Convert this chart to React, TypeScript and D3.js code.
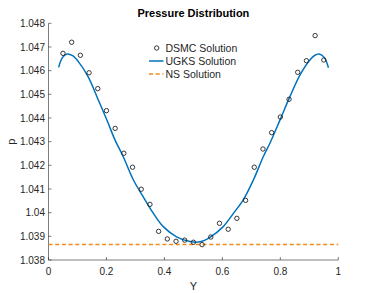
import React from "react";
import * as d3 from "d3";

const dsmcY = [0.05, 0.08, 0.11, 0.14, 0.17, 0.2, 0.23, 0.26, 0.29, 0.32, 0.35, 0.38, 0.41, 0.44, 0.47, 0.5, 0.53, 0.56, 0.59, 0.62, 0.65, 0.68, 0.71, 0.74, 0.77, 0.8, 0.83, 0.86, 0.89, 0.92, 0.95];
const dsmcP = [1.04673, 1.0472, 1.04665, 1.04591, 1.04524, 1.04431, 1.04356, 1.04251, 1.04192, 1.04099, 1.04035, 1.03921, 1.03889, 1.03879, 1.03884, 1.03875, 1.03865, 1.03897, 1.03955, 1.0393, 1.03976, 1.04052, 1.04192, 1.04269, 1.04338, 1.04404, 1.04479, 1.04593, 1.04642, 1.04748, 1.04645];

const ugksY = [0.035, 0.048, 0.064, 0.083, 0.103, 0.137, 0.172, 0.206, 0.227, 0.258, 0.293, 0.327, 0.362, 0.396, 0.442, 0.488, 0.523, 0.557, 0.603, 0.638, 0.672, 0.707, 0.741, 0.764, 0.799, 0.833, 0.868, 0.902, 0.918, 0.934, 0.952, 0.966];
const ugksP = [1.04614, 1.04655, 1.0467, 1.04663, 1.04638, 1.04574, 1.04476, 1.04378, 1.04314, 1.04236, 1.04138, 1.04067, 1.03997, 1.03941, 1.03898, 1.03878, 1.03877, 1.03896, 1.03941, 1.03997, 1.04054, 1.04138, 1.04236, 1.04293, 1.04392, 1.0449, 1.04582, 1.04645, 1.04664, 1.0467, 1.04655, 1.04612];

const nsY = [0, 1];
const nsP = [1.03866, 1.03866];

const xTicks = [0, 0.2, 0.4, 0.6, 0.8, 1];
const yTicks = [1.038, 1.039, 1.04, 1.041, 1.042, 1.043, 1.044, 1.045, 1.046, 1.047, 1.048];

const legendItems = ["DSMC Solution", "UGKS Solution", "NS Solution"];

const W = 374;
const H = 293;
const left = 48.5;
const right = 338.3;
const top = 23.3;
const bottom = 260;

const textColor = "#262626";
const axisColor = "#262626";
const blue = "#0072BD";
const orange = "#F08A1C";
const font = "'Liberation Sans', Arial, Helvetica, sans-serif";

export default function App() {
  const x = d3.scaleLinear().domain([0, 1]).range([left, right]);
  const y = d3.scaleLinear().domain([1.038, 1.048]).range([bottom, top]);

  const ugksLine = d3
    .line<number>()
    .x((_, i) => x(ugksY[i]))
    .y((d) => y(d))
    .curve(d3.curveCatmullRom.alpha(0.5))(ugksP) as string;

  const nsLine = d3
    .line<number>()
    .x((_, i) => x(nsY[i]))
    .y((d) => y(d))(nsP) as string;

  const fmt = (v: number) => String(+v.toFixed(3));

  const legendX = 156.7;
  const legendY0 = 48;
  const legendDy = 13;

  return (
    <svg
      width={W}
      height={H}
      style={{ position: "absolute", left: 0, top: 0, background: "#fff" }}
      fontFamily={font}
    >
      <rect x={0} y={0} width={W} height={H} fill="#fff" />
      <text x={(left + right) / 2} y={17} textAnchor="middle" fontSize={11} fontWeight="bold" fill="#000">
        Pressure Distribution
      </text>

      <line x1={left} x2={left} y1={top} y2={bottom} stroke={axisColor} strokeWidth={0.6} />
      <line x1={left} x2={right} y1={bottom} y2={bottom} stroke={axisColor} strokeWidth={0.6} />

      {yTicks.map((t) => (
        <g key={"y" + t}>
          <line x1={left} x2={left + 3} y1={y(t)} y2={y(t)} stroke={axisColor} strokeWidth={0.6} />
          <text x={left - 3.5} y={y(t) + 3.6} textAnchor="end" fontSize={10} fill={textColor}>
            {fmt(t)}
          </text>
        </g>
      ))}
      {xTicks.map((t) => (
        <g key={"x" + t}>
          <line x1={x(t)} x2={x(t)} y1={bottom} y2={bottom - 3} stroke={axisColor} strokeWidth={0.6} />
          <text x={x(t)} y={274.8} textAnchor="middle" fontSize={10} fill={textColor}>
            {String(t)}
          </text>
        </g>
      ))}

      <text x={(left + right) / 2} y={289.8} textAnchor="middle" fontSize={11} fill={textColor}>
        Y
      </text>
      <text
        transform={`translate(15, ${(top + bottom) / 2}) rotate(-90)`}
        textAnchor="middle"
        fontSize={11}
        fill={textColor}
      >
        p
      </text>

      <path d={nsLine} fill="none" stroke={orange} strokeWidth={1.5} strokeDasharray="4,2.7" />
      <path d={ugksLine} fill="none" stroke={blue} strokeWidth={1.5} />

      {dsmcP.map((p, i) => (
        <circle key={"d" + i} cx={x(dsmcY[i])} cy={y(p)} r={2.2} fill="none" stroke="#222" strokeWidth={0.9} />
      ))}

      <circle cx={legendX} cy={legendY0} r={2.2} fill="none" stroke="#222" strokeWidth={0.9} />
      <line x1={149} x2={163.5} y1={legendY0 + legendDy} y2={legendY0 + legendDy} stroke={blue} strokeWidth={1.5} />
      <line
        x1={149}
        x2={163.5}
        y1={legendY0 + 2 * legendDy}
        y2={legendY0 + 2 * legendDy}
        stroke={orange}
        strokeWidth={1.5}
        strokeDasharray="4,2.7"
      />
      {legendItems.map((s, i) => (
        <text key={s} x={165.5} y={legendY0 + i * legendDy + 3.7} fontSize={10.5} fill={textColor}>
          {s}
        </text>
      ))}
    </svg>
  );
}
